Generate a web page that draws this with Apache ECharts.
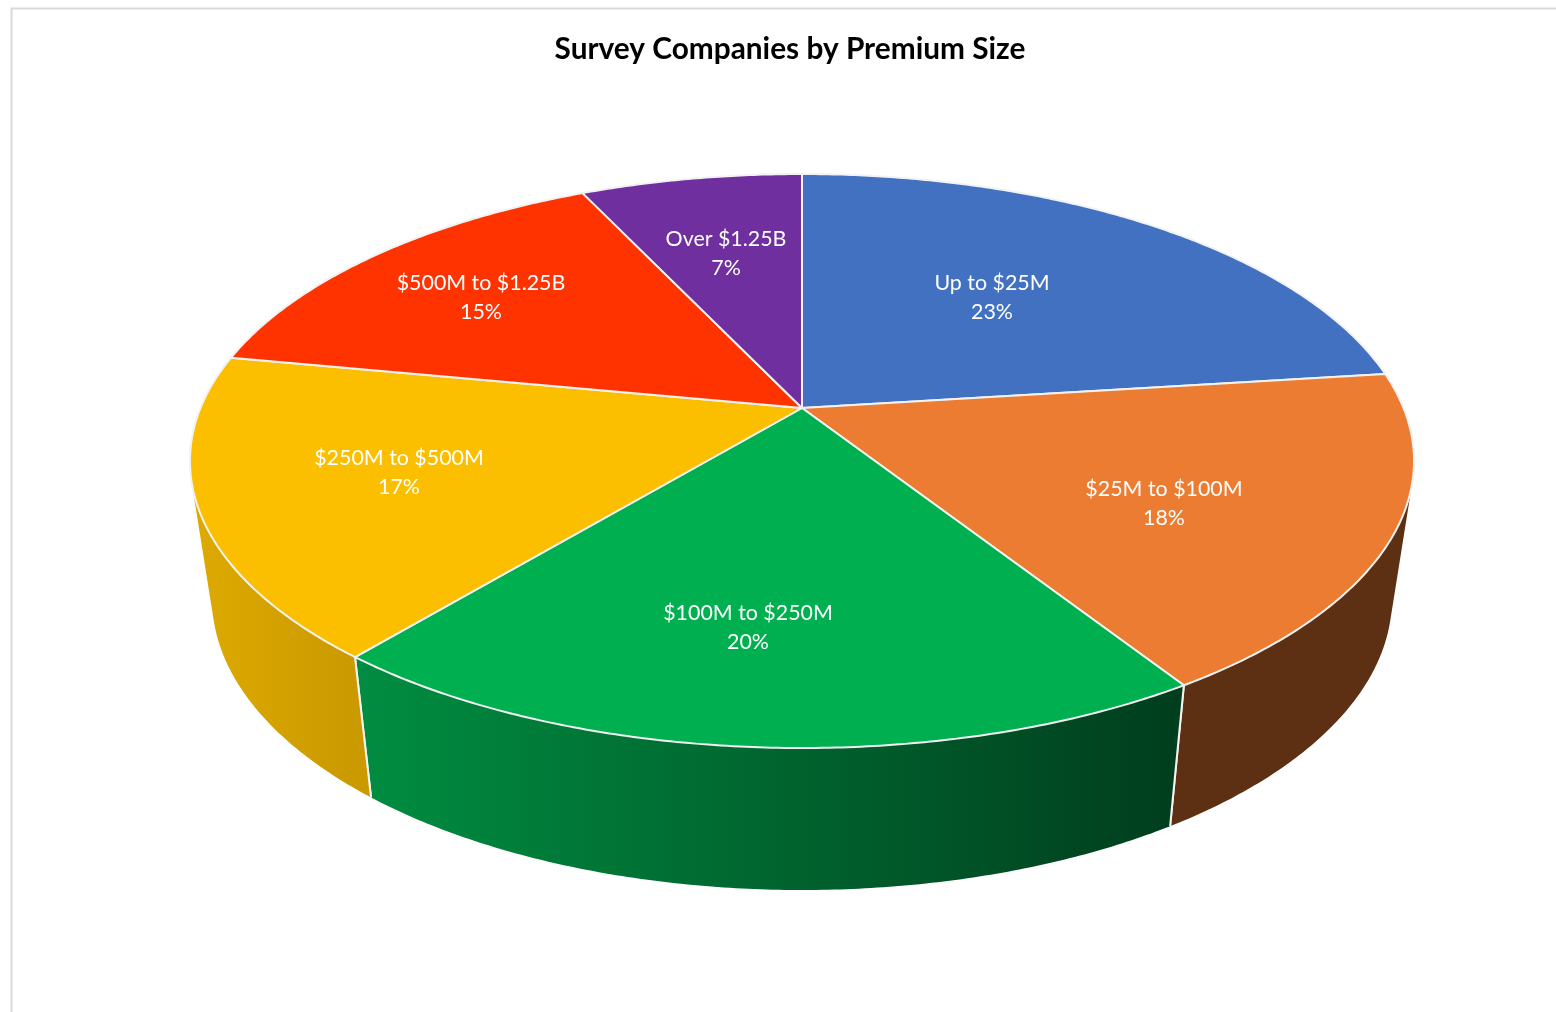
<!DOCTYPE html>
<html>
<head>
<meta charset="utf-8">
<title>Survey Companies by Premium Size</title>
<style>html,body{margin:0;padding:0;background:#fff}#chart{width:1556px;height:1012px}</style>
<script src="https://cdn.jsdelivr.net/npm/echarts@6/dist/echarts.min.js"></script>
</head>
<body>
<div id="chart"></div>
<script>
// Share of survey companies per premium band, clockwise from twelve o'clock
const categories = ['Up to $25M', '$25M to $100M', '$100M to $250M', '$250M to $500M', '$500M to $1.25B', 'Over $1.25B'];
const shares = [23, 18, 20, 17, 15, 7];

const faceColors = ['#4371C2', '#EB7C31', '#00AF4F', '#FBBF00', '#FF3300', '#6F2F9F'];
const GREEN_WALL = { from: '#008E41', to: '#003F1E', x: 349, x2: 1165 };
const YELLOW_WALL = { from: '#DEAA00', to: '#CB9A00', x: 192, x2: 349 };
const wallColors = ['#2F4F86', '#5E3013', GREEN_WALL, YELLOW_WALL, '#B32400', '#4E2170'];

// Centre of each two-line slice label on the canvas
const labelAnchors = [[992, 298], [1164, 504], [748, 628], [399, 473], [481, 298], [726, 254]];

// Perspective view of the disc: top face hub, foreshortening and wall offset
const HUB_X = 802, HUB_Y = 408;
const SPAN_X = 601.5, SPAN_Y = 277.2, TILT = 0.1847;
const RIM_CENTER_Y = 461, FLOOR_CENTER_Y = 598;
const FLOOR_SCALE_X = 590 / 612, FLOOR_SCALE_Y = 292 / 287;

function rimPoint(angle) {
  const u = Math.sin(angle), v = Math.cos(angle), w = 1 + TILT * v;
  return [HUB_X + SPAN_X * u / w, HUB_Y - SPAN_Y * v / w];
}
function floorPoint(p) {
  return [HUB_X + (p[0] - HUB_X) * FLOOR_SCALE_X, FLOOR_CENTER_Y + (p[1] - RIM_CENTER_Y) * FLOOR_SCALE_Y];
}
// A wall point is visible when the rim runs against the drop towards the floor
function facesViewer(angle) {
  const a = rimPoint(angle), b = rimPoint(angle + 0.002), f = floorPoint(a);
  return (b[0] - a[0]) * (f[1] - a[1]) - (b[1] - a[1]) * (f[0] - a[0]) < 0;
}

const total = shares.reduce((s, v) => s + v, 0);
function sliceRange(index) {
  let before = 0;
  for (let i = 0; i < index; i++) before += shares[i];
  return [before / total * Math.PI * 2, (before + shares[index]) / total * Math.PI * 2];
}
function sampleAngles(start, end) {
  const steps = Math.max(2, Math.ceil((end - start) / (Math.PI / 360)));
  const out = [];
  for (let i = 0; i <= steps; i++) out.push(start + (end - start) * i / steps);
  return out;
}
function wallFill(color) {
  if (typeof color === 'string') return color;
  return {
    type: 'linear', global: true, x: color.x, y: 0, x2: color.x2, y2: 0,
    colorStops: [{ offset: 0, color: color.from }, { offset: 1, color: color.to }]
  };
}

function renderWall(params) {
  const range = sliceRange(params.dataIndex);
  const visible = sampleAngles(range[0], range[1]).filter(facesViewer);
  if (visible.length < 2) return { type: 'group', children: [] };
  const upper = visible.map(rimPoint);
  const lower = upper.map(floorPoint).reverse();
  const children = [{
    type: 'polygon',
    shape: { points: upper.concat(lower) },
    style: { fill: wallFill(wallColors[params.dataIndex]) }
  }];
  range.forEach(function (edge) {
    if (!facesViewer(edge)) return;
    const top = rimPoint(edge);
    children.push({
      type: 'polyline',
      shape: { points: [top, floorPoint(top)] },
      style: { fill: 'none', stroke: '#F4F4F4', lineWidth: 2 }
    });
  });
  return { type: 'group', children: children };
}

function renderFace(params, api) {
  const range = sliceRange(params.dataIndex);
  const anchor = labelAnchors[params.dataIndex];
  const points = [[HUB_X, HUB_Y]].concat(sampleAngles(range[0], range[1]).map(rimPoint));
  return {
    type: 'group',
    children: [{
      type: 'polygon',
      shape: { points: points },
      style: { fill: faceColors[params.dataIndex], stroke: '#F2F2F2', lineWidth: 2, lineJoin: 'round' }
    }, {
      type: 'text',
      z2: 10,
      style: {
        x: anchor[0], y: anchor[1],
        text: categories[params.dataIndex] + '\n' + api.value(0) + '%',
        fill: '#FFFFFF',
        font: '21.4px Lato',
        lineHeight: 29,
        align: 'center',
        verticalAlign: 'middle'
      }
    }]
  };
}

const chart = echarts.init(document.getElementById('chart'), null, { renderer: 'canvas' });
chart.setOption({
  animation: false,
  backgroundColor: '#FFFFFF',
  title: {
    text: 'Survey Companies by Premium Size',
    left: 785,
    top: 29,
    textAlign: 'center',
    textStyle: { fontFamily: 'Lato', fontWeight: 'bold', fontSize: 29.8, color: '#000000' }
  },
  graphic: [{
    type: 'polyline',
    silent: true,
    shape: { points: [[11.5, 1012], [11.5, 8.5], [1556, 8.5]] },
    style: { fill: 'none', stroke: '#D9D9D9', lineWidth: 2 }
  }],
  series: [
    { type: 'custom', coordinateSystem: 'none', z: 1, renderItem: renderWall, data: shares, silent: true },
    { type: 'custom', coordinateSystem: 'none', z: 2, renderItem: renderFace, data: shares, silent: true }
  ]
});
</script>
</body>
</html>
